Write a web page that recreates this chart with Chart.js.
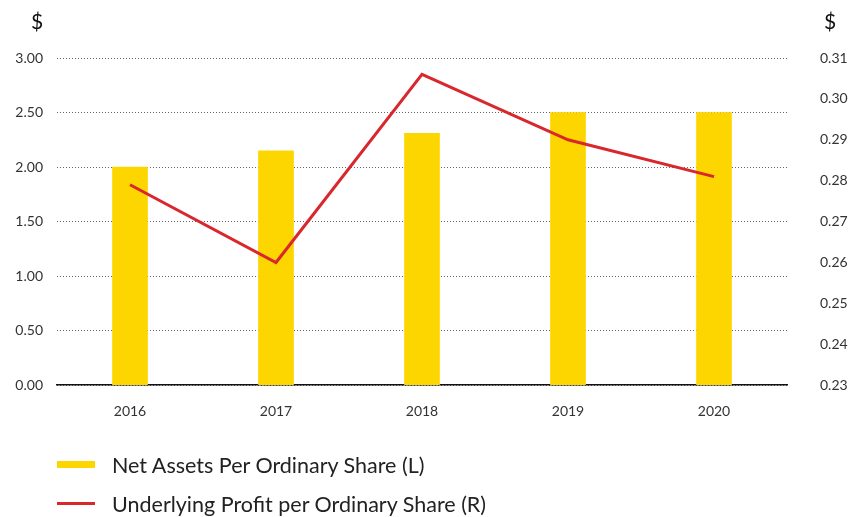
<!DOCTYPE html>
<html>
<head>
<meta charset="utf-8">
<script src="https://cdn.jsdelivr.net/npm/chart.js@4"></script>
<style>
  body { margin: 0; background: #fff; font-family: Lato, "Open Sans", sans-serif; color: #222; }
  #wrap { position: relative; width: 865px; height: 517px; overflow: hidden; }
  #chart { position: absolute; left: 0; top: 0; }
  .unit { position: absolute; top: 8px; font-size: 21px; color: #111; }
  #legend { position: absolute; left: 57px; top: 445px; }
  .item { display: flex; align-items: center; height: 39px; font-size: 21.5px; color: #222; }
  .swatch { width: 38px; margin-right: 17px; }
</style>
</head>
<body>
<div id="wrap">
  <canvas id="chart" width="865" height="448"></canvas>
  <div class="unit" style="left:31px">$</div>
  <div class="unit" style="left:824px">$</div>
  <div id="legend"></div>
</div>
<script>
// data
const years = ['2016', '2017', '2018', '2019', '2020'];
const netAssets = [2.00, 2.15, 2.31, 2.50, 2.50];
const underlyingProfit = [0.279, 0.260, 0.306, 0.290, 0.281];
const seriesNames = ['Net Assets Per Ordinary Share (L)', 'Underlying Profit per Ordinary Share (R)'];

const yellow = '#fdd600';
const red = '#d9272e';
const tickFont = { family: 'Lato', size: 14 };

const ctx = document.getElementById('chart').getContext('2d');
new Chart(ctx, {
    type: 'bar',
    data: {
        labels: years,
        datasets: [{
            type: 'line',
            label: seriesNames[1],
            data: underlyingProfit,
            yAxisID: 'yR',
            borderColor: red,
            borderWidth: 3,
            pointRadius: 0,
            tension: 0,
            order: 0
        }, {
            label: seriesNames[0],
            data: netAssets,
            yAxisID: 'yL',
            backgroundColor: yellow,
            barThickness: 35,
            order: 1
        }]
    },
    options: {
        responsive: false,
        animation: false,
        layout: { padding: { top: 58, bottom: 10, left: 0, right: 0 } },
        plugins: {
            legend: { display: false },
            tooltip: { enabled: false }
        },
        scales: {
            x: {
                grid: { display: false, drawTicks: false },
                border: { display: true, color: '#111', width: 1.5 },
                ticks: { font: tickFont, color: '#333', padding: 18 }
            },
            yL: {
                position: 'left',
                min: 0,
                max: 3,
                afterFit: s => { s.width = 57; },
                grid: { color: '#666', lineWidth: 1, drawTicks: false },
                border: { display: false, dash: [1, 2] },
                ticks: {
                    stepSize: 0.5,
                    font: tickFont,
                    color: '#333',
                    padding: 14,
                    callback: v => v.toFixed(2)
                }
            },
            yR: {
                position: 'right',
                min: 0.23,
                max: 0.31,
                afterFit: s => { s.width = 78; },
                grid: { display: false, drawTicks: false },
                border: { display: false },
                ticks: {
                    stepSize: 0.01,
                    font: tickFont,
                    color: '#333',
                    padding: 33,
                    callback: v => v.toFixed(2)
                }
            }
        }
    }
});

// legend as real text
const legend = document.getElementById('legend');
[[seriesNames[0], yellow, 7], [seriesNames[1], red, 3]].forEach(([name, colour, h]) => {
    const row = document.createElement('div');
    row.className = 'item';
    row.innerHTML = '<span class="swatch" style="height:' + h + 'px;background:' + colour + '"></span><span>' + name + '</span>';
    legend.appendChild(row);
});
</script>
</body>
</html>
